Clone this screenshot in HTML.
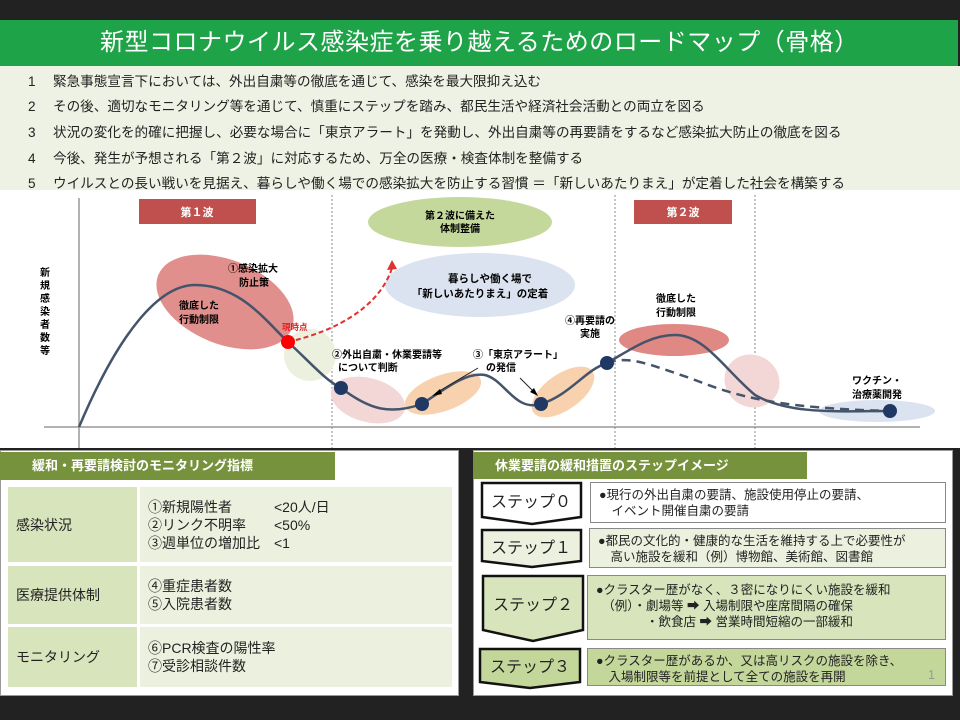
<!DOCTYPE html>
<html><head><meta charset="utf-8">
<style>
*{margin:0;padding:0;box-sizing:border-box}
body{width:960px;height:720px;background:#222;position:relative;overflow:hidden;font-family:"Liberation Sans","Noto Sans CJK JP",sans-serif;color:#222}
.a{position:absolute}
#title{left:0;top:20px;width:958px;height:46px;background:#1ea348;color:#fff;font-size:24px;line-height:46px;padding-left:100px;letter-spacing:0.5px}
#list{left:0;top:66px;width:960px;height:124px;background:#eef2e4}
.li{position:absolute;left:28px;font-size:13.6px;white-space:nowrap}
.li b{font-weight:normal;display:inline-block;width:25px}
#chart{left:0;top:190px;width:960px;height:258px;background:#fff}
.pan{background:#fff;border:1px solid #999}
.hd{background:#76923c;color:#fff;font-weight:bold;font-size:13px;line-height:28px}
.c1{background:#d8e4bc;font-size:14px;display:flex;align-items:center;padding-left:8px}
.c2{background:#ebf1de;font-size:14px;line-height:18px;padding-left:8px;display:flex;flex-direction:column;justify-content:center}
.d{font-size:12.5px;line-height:16px;padding:4px 0 0 8px;border:1px solid #888}
</style></head><body>
<div class="a" id="title">新型コロナウイルス感染症を乗り越えるためのロードマップ（骨格）</div>
<div class="a" id="list">
<div class="li" style="top:4px"><b>1</b>緊急事態宣言下においては、外出自粛等の徹底を通じて、感染を最大限抑え込む</div>
<div class="li" style="top:29px"><b>2</b>その後、適切なモニタリング等を通じて、慎重にステップを踏み、都民生活や経済社会活動との両立を図る</div>
<div class="li" style="top:55px"><b>3</b>状況の変化を的確に把握し、必要な場合に「東京アラート」を発動し、外出自粛等の再要請をするなど感染拡大防止の徹底を図る</div>
<div class="li" style="top:81px"><b>4</b>今後、発生が予想される「第２波」に対応するため、万全の医療・検査体制を整備する</div>
<div class="li" style="top:106px"><b>5</b>ウイルスとの長い戦いを見据え、暮らしや働く場での感染拡大を防止する習慣 ＝「新しいあたりまえ」が定着した社会を構築する</div>
</div>
<div class="a" id="chart">
<svg width="960" height="258" viewBox="0 190 960 258" style="position:absolute;left:0;top:0" font-family="Liberation Sans, Noto Sans CJK JP, sans-serif">
<line x1="79" y1="198" x2="79" y2="448" stroke="#999" stroke-width="1.5"/>
<line x1="44" y1="427" x2="920" y2="427" stroke="#999" stroke-width="1.5"/>
<g stroke="#888" stroke-dasharray="2,2"><line x1="332" y1="195" x2="332" y2="448"/><line x1="615" y1="195" x2="615" y2="448"/><line x1="755" y1="195" x2="755" y2="448"/></g>
<rect x="139" y="199" width="117" height="25" fill="#c0504d"/>
<text x="197" y="216" fill="#fff" font-size="11" font-weight="bold" text-anchor="middle">第１波</text>
<rect x="634" y="200" width="98" height="24" fill="#c0504d"/>
<text x="683" y="216" fill="#fff" font-size="11" font-weight="bold" text-anchor="middle">第２波</text>
<ellipse cx="460" cy="222" rx="92" ry="25" fill="#c5d89b"/>
<text x="460" y="219" font-size="10" font-weight="bold" text-anchor="middle">第２波に備えた</text>
<text x="460" y="232" font-size="10" font-weight="bold" text-anchor="middle">体制整備</text>
<ellipse cx="480" cy="285" rx="95" ry="32" fill="#dbe3f0"/>
<text x="490" y="282" font-size="10.5" font-weight="bold" text-anchor="middle">暮らしや働く場で</text>
<text x="480" y="297" font-size="10.5" font-weight="bold" text-anchor="middle">「新しいあたりまえ」の定着</text>
<ellipse cx="225" cy="302" rx="72" ry="42" transform="rotate(22 225 302)" fill="#d9736f" opacity="0.8"/>
<ellipse cx="310" cy="355" rx="26" ry="26" fill="#ebf1de"/>
<ellipse cx="368" cy="400" rx="38" ry="22" transform="rotate(15 368 400)" fill="#f2d7d6"/>
<ellipse cx="443" cy="393" rx="40" ry="18" transform="rotate(-20 443 393)" fill="#f7c9a0" opacity="0.85"/>
<ellipse cx="563" cy="392" rx="36" ry="18" transform="rotate(-35 563 392)" fill="#f7c9a0" opacity="0.85"/>
<ellipse cx="674" cy="340" rx="55" ry="16" fill="#d9736f" opacity="0.85"/>
<ellipse cx="752" cy="381" rx="28" ry="26" transform="rotate(30 752 381)" fill="#f2d7d6"/>
<ellipse cx="877" cy="411" rx="58" ry="11" fill="#dbe3f0"/>
<path d="M79,427 C120,330 160,285 195,285 C240,285 265,320 288,342 C310,362 325,380 341,388 C370,410 390,415 422,404 C450,385 468,372 485,375 C505,380 515,412 541,404 C570,395 585,370 607,363 C630,350 650,335 675,335 C705,335 725,370 755,395 C790,415 840,411 890,411" fill="none" stroke="#44546a" stroke-width="2.5"/>
<path d="M607,363 C630,355 650,365 690,378 C740,398 780,408 890,411" fill="none" stroke="#44546a" stroke-width="2.5" stroke-dasharray="9,6"/>
<path d="M288,342 C340,330 380,305 392,268" fill="none" stroke="#e03030" stroke-width="2" stroke-dasharray="5,3"/>
<polygon points="392,260 387,270 397,269" fill="#e03030"/>
<circle cx="288" cy="342" r="7" fill="#f00"/>
<g fill="#1f3864"><circle cx="341" cy="388" r="7"/><circle cx="422" cy="404" r="7"/><circle cx="541" cy="404" r="7"/><circle cx="607" cy="363" r="7"/><circle cx="890" cy="411" r="7"/></g>
<line x1="478" y1="368" x2="436" y2="393" stroke="#222"/><polygon points="432,396 440,389 442,394"/>
<line x1="520" y1="378" x2="535" y2="393" stroke="#222"/><polygon points="538,396 530,392 534,388"/>
<g font-size="10" font-weight="bold">
<text x="40" y="276">新</text><text x="40" y="289">規</text><text x="40" y="302">感</text><text x="40" y="315">染</text><text x="40" y="328">者</text><text x="40" y="341">数</text><text x="40" y="354">等</text>
<text x="228" y="272">①感染拡大</text><text x="239" y="286">防止策</text>
<text x="179" y="309">徹底した</text><text x="179" y="323">行動制限</text>
<text x="282" y="330" fill="#e02020" font-size="8.5">現時点</text>
<text x="332" y="358">②外出自粛・休業要請等</text><text x="338" y="371">について判断</text>
<text x="473" y="358">③「東京アラート」</text><text x="486" y="371">の発信</text>
<text x="565" y="324">④再要請の</text><text x="580" y="337">実施</text>
<text x="656" y="302">徹底した</text><text x="656" y="316">行動制限</text>
<text x="852" y="384">ワクチン・</text><text x="852" y="398">治療薬開発</text>
</g>
</svg>
</div>
<div class="a pan" style="left:0;top:450px;width:459px;height:246px"></div>
<div class="a hd" style="left:0;top:452px;width:335px;height:28px;padding-left:32px">緩和・再要請検討のモニタリング指標</div>
<div class="a c1" style="left:8px;top:487px;width:129px;height:75px">感染状況</div>
<div class="a c2" style="left:140px;top:487px;width:312px;height:75px"><div>①新規陽性者　　　&lt;20人/日</div><div>②リンク不明率　　&lt;50%</div><div>③週単位の増加比　&lt;1</div></div>
<div class="a c1" style="left:8px;top:566px;width:129px;height:58px">医療提供体制</div>
<div class="a c2" style="left:140px;top:566px;width:312px;height:58px"><div>④重症患者数</div><div>⑤入院患者数</div></div>
<div class="a c1" style="left:8px;top:627px;width:129px;height:60px">モニタリング</div>
<div class="a c2" style="left:140px;top:627px;width:312px;height:60px"><div>⑥PCR検査の陽性率</div><div>⑦受診相談件数</div></div>
<div class="a pan" style="left:473px;top:450px;width:480px;height:246px"></div>
<div class="a hd" style="left:473px;top:452px;width:334px;height:27px;padding-left:22px">休業要請の緩和措置のステップイメージ</div>
<svg class="a" style="left:0;top:0" width="960" height="720">
<g stroke="#111" stroke-width="2.5">
<polygon points="482,483 581,483 581,517 532,524 482,517" fill="#fff"/>
<polygon points="482,530 581,530 581,561 532,567 482,561" fill="#ebf1de"/>
<polygon points="483,576 583,576 583,630 533,641 483,630" fill="#d7e4bc"/>
<polygon points="480,649 580,649 580,682 530,688 480,682" fill="#c4d79b"/>
</g>
<g font-family="Liberation Sans, Noto Sans CJK JP, sans-serif" font-size="16" text-anchor="middle" fill="#222">
<text x="531" y="507">ステップ０</text><text x="531" y="553">ステップ１</text><text x="533" y="610">ステップ２</text><text x="530" y="672">ステップ３</text>
</g>
</svg>
<div class="a d" style="left:590px;top:482px;width:356px;height:41px;background:#fff">●現行の外出自粛の要請、施設使用停止の要請、<br>　イベント開催自粛の要請</div>
<div class="a d" style="left:589px;top:528px;width:357px;height:40px;background:#ebf1de">●都民の文化的・健康的な生活を維持する上で必要性が<br>　高い施設を緩和（例）博物館、美術館、図書館</div>
<div class="a d" style="left:587px;top:575px;width:359px;height:65px;background:#d7e4bc;padding-top:6px">●クラスター歴がなく、３密になりにくい施設を緩和<br>　（例）・劇場等 ➡ 入場制限や座席間隔の確保<br>　　　　・飲食店 ➡ 営業時間短縮の一部緩和</div>
<div class="a d" style="left:587px;top:648px;width:359px;height:38px;background:#c4d79b">●クラスター歴があるか、又は高リスクの施設を除き、<br>　入場制限等を前提として全ての施設を再開<span style="position:absolute;right:10px;top:18px;color:#999">1</span></div>
</body></html>
